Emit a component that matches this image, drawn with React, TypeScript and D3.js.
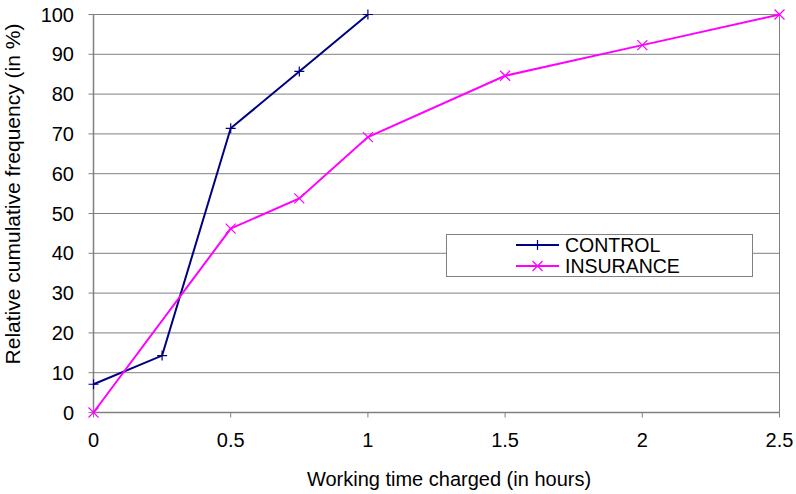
import React from "react";
import * as d3 from "d3";

const controlX = [0, 0.25, 0.5, 0.75, 1];
const controlY = [7.1, 14.3, 71.4, 85.7, 100];
const insuranceX = [0, 0.5, 0.75, 1, 1.5, 2, 2.5];
const insuranceY = [0, 46.2, 53.8, 69.2, 84.6, 92.3, 100];
const xTicks = [0, 0.5, 1, 1.5, 2, 2.5];
const yTicks = [0, 10, 20, 30, 40, 50, 60, 70, 80, 90, 100];
const seriesNames = ["CONTROL", "INSURANCE"];

export default function App() {
  const W = 796, H = 494;
  const left = 93.5, right = 779.5, top = 14.5, bottom = 412.5;
  const x = d3.scaleLinear().domain([0, 2.5]).range([left, right]);
  const y = d3.scaleLinear().domain([0, 100]).range([bottom, top]);
  const line = d3.line<[number, number]>().x(d => x(d[0])).y(d => y(d[1]));
  const ctrl: [number, number][] = controlX.map((v, i) => [v, controlY[i]]);
  const ins: [number, number][] = insuranceX.map((v, i) => [v, insuranceY[i]]);
  const font = "Arial, 'Liberation Sans', sans-serif";
  const navy = "#000080", mag = "#FF00FF";
  const plus = (cx: number, cy: number, c: string, k: string) => (
    <path key={k} d={`M${cx - 5},${cy}H${cx + 5}M${cx},${cy - 5}V${cy + 5}`} stroke={c} strokeWidth={1.2} />
  );
  const cross = (cx: number, cy: number, c: string, k: string) => (
    <path key={k} d={`M${cx - 5},${cy - 5}L${cx + 5},${cy + 5}M${cx - 5},${cy + 5}L${cx + 5},${cy - 5}`} stroke={c} strokeWidth={1.2} />
  );
  return (
    <svg width={W} height={H} style={{ position: "absolute", left: 0, top: 0, background: "#fff" }} fontFamily={font}>
      {yTicks.map(t => (
        <g key={"y" + t}>
          <line x1={left - 5} x2={right} y1={y(t)} y2={y(t)} stroke="#808080" strokeWidth={1} />
          <text x={74} y={y(t) + 7} textAnchor="end" fontSize={20}>{t}</text>
        </g>
      ))}
      <line x1={right} x2={right} y1={top} y2={bottom} stroke="#808080" />
      <line x1={left} x2={left} y1={top} y2={bottom} stroke="#808080" strokeWidth={1.5} />
      <line x1={left} x2={right} y1={bottom} y2={bottom} stroke="#808080" strokeWidth={1.5} />
      {xTicks.map(t => (
        <g key={"x" + t}>
          <line x1={x(t)} x2={x(t)} y1={bottom} y2={bottom + 5} stroke="#808080" />
          <text x={x(t)} y={446.5} textAnchor="middle" fontSize={20}>{t}</text>
        </g>
      ))}
      <text x={449} y={486} textAnchor="middle" fontSize={20}>Working time charged (in hours)</text>
      <text transform={`translate(20,194) rotate(-90)`} textAnchor="middle" fontSize={21}>Relative cumulative frequency (in %)</text>
      <path d={line(ctrl) || ""} fill="none" stroke={navy} strokeWidth={2} />
      {ctrl.map((d, i) => plus(x(d[0]), y(d[1]), navy, "c" + i))}
      <path d={line(ins) || ""} fill="none" stroke={mag} strokeWidth={2} />
      {ins.map((d, i) => cross(x(d[0]), y(d[1]), mag, "i" + i))}
      <rect x={446.5} y={234.5} width={306} height={42} fill="#fff" stroke="#808080" />
      <line x1={516} x2={559} y1={245} y2={245} stroke={navy} strokeWidth={2} />
      {plus(537.5, 245, navy, "lp")}
      <text x={565} y={252} fontSize={19.5}>{seriesNames[0]}</text>
      <line x1={516} x2={559} y1={266} y2={266} stroke={mag} strokeWidth={2} />
      {cross(537.5, 266, mag, "lc")}
      <text x={565} y={273} fontSize={19.5}>{seriesNames[1]}</text>
    </svg>
  );
}
